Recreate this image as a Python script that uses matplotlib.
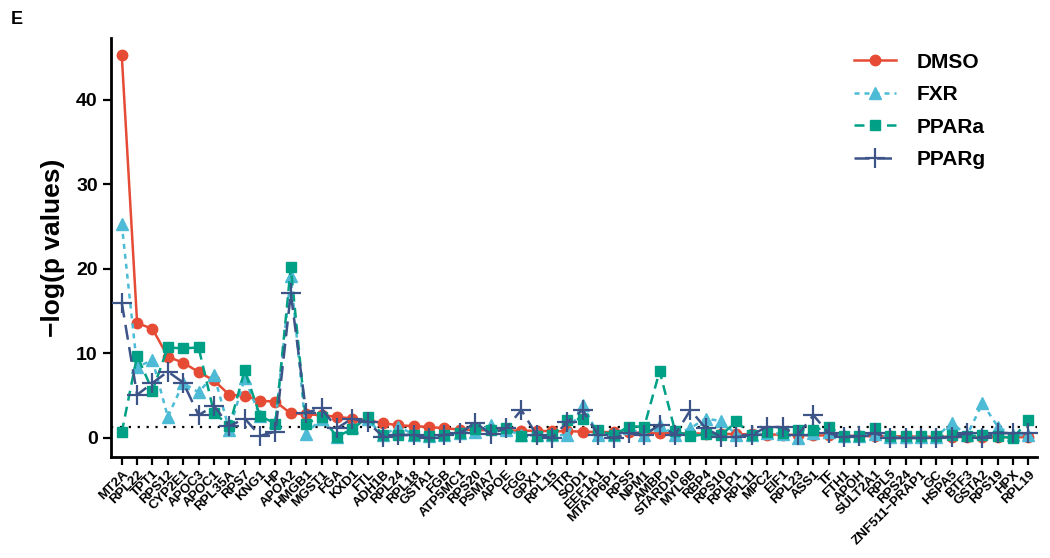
import matplotlib
matplotlib.use("Agg")
import matplotlib.pyplot as plt
import numpy as np

plt.rcParams['font.family'] = ['Liberation Sans', 'DejaVu Sans']

genes = ["MT2A", "RPL22", "TPT1", "RPS12", "CYP2E1", "APOC3", "APOC1", "RPL35A", "RPS7", "KNG1",
         "HP", "APOA2", "HMGB1", "MGST1", "FGA", "KXD1", "FTL", "ADH1B", "RPL24", "RPL18",
         "GSTA1", "FGB", "ATP5MC1", "RPS20", "PSMA7", "APOE", "FGG", "GPX1", "RPL15", "TTR",
         "SOD1", "EEF1A1", "MTATP6P1", "RPS5", "NPM1", "AMBP", "STARD10", "MYL6B", "RBP4", "RPS10",
         "RPLP1", "RPL11", "MPC2", "EIF1", "RPL23", "ASS1", "TF", "FTH1", "APOH", "SULT2A1",
         "RPL5", "RPS24", "ZNF511\u2212PRAP1", "GC", "HSPA5", "BTF3", "GSTA2", "RPS19", "HPX", "RPL19"]

dmso = [45.3, 13.6, 12.9, 9.6, 8.9, 7.8, 6.8, 5.1, 5.0, 4.4,
        4.3, 2.9, 2.8, 2.7, 2.5, 2.3, 2.1, 1.75, 1.5, 1.4,
        1.3, 1.15, 1.0, 0.95, 0.9, 0.9, 0.85, 0.85, 0.8, 0.8,
        0.75, 0.7, 0.7, 0.65, 0.6, 0.6, 0.55, 0.55, 0.5, 0.5,
        0.45, 0.45, 0.4, 0.4, 0.35, 0.3, 0.3, 0.25, 0.25, 0.2,
        0.2, 0.2, 0.15, 0.15, 0.15, 0.1, 0.1, 0.1, 0.1, 0.1]

fxr = [25.3, 8.4, 9.2, 2.5, 6.5, 5.4, 7.45, 0.95, 7.05, 2.6,
       1.9, 19.2, 0.5, 2.3, 0.1, 1.3, 2.2, 0.3, 1.35, 0.4,
       0.2, 0.4, 0.6, 0.7, 1.5, 1.0, 0.3, 0.3, 0.3, 0.35,
       3.9, 0.4, 0.3, 1.15, 0.4, 1.5, 0.4, 1.15, 2.3, 2.0,
       0.4, 0.35, 0.6, 0.5, 0.0, 0.6, 0.75, 0.2, 0.2, 0.5,
       0.1, 0.1, 0.1, 0.1, 1.8, 0.3, 4.1, 1.35, 0.3, 0.35]

ppara = [0.65, 9.7, 5.6, 10.7, 10.6, 10.7, 3.0, 1.4, 8.0, 2.6,
         1.7, 20.2, 1.7, 2.5, 0.15, 1.05, 2.5, 0.3, 0.35, 0.4,
         0.2, 0.35, 0.55, 1.1, 0.95, 1.15, 0.2, 0.2, 0.3, 2.1,
         2.3, 0.9, 0.35, 1.35, 1.35, 7.9, 0.85, 0.2, 0.45, 0.35,
         1.95, 0.35, 0.75, 0.55, 0.95, 0.9, 1.35, 0.2, 0.2, 1.15,
         0.2, 0.2, 0.2, 0.2, 0.35, 0.2, 0.35, 0.2, 0.0, 2.1]

pparg = [16.0, 5.1, 6.5, 7.85, 6.55, 2.7, 3.8, 1.4, 2.3, 0.25,
         0.75, 17.1, 3.0, 3.5, 1.15, 2.3, 1.9, 0.15, 0.35, 0.35,
         0.0, 0.35, 0.55, 1.8, 0.5, 1.15, 3.3, 0.35, 0.0, 1.9,
         3.3, 0.35, 0.0, 0.55, 0.35, 1.55, 0.35, 3.3, 1.15, 0.15,
         0.1, 0.35, 1.35, 1.25, 0.35, 2.7, 0.55, 0.1, 0.2, 0.55,
         0.0, 0.0, 0.0, 0.0, 0.1, 0.55, 0.0, 0.6, 0.55, 0.55]

threshold = 1.3
yticks = [0, 10, 20, 30, 40]

fig = plt.figure(figsize=(10.5, 5.58), dpi=100)
ax = fig.add_axes([0.1057, 0.181, 0.882, 0.751])

x = np.arange(len(genes))
ax.axhline(threshold, color='black', linestyle=(0, (1, 3)), linewidth=1.6, zorder=1)

ax.plot(x, dmso, color='#E64B35', linestyle='-', linewidth=1.8, marker='o', markersize=7.5,
        label='DMSO', zorder=3)
ax.plot(x, fxr, color='#4DBBD5', linestyle=(0, (2, 2)), linewidth=1.8, marker='^', markersize=8.5,
        label='FXR', zorder=4)
ax.plot(x, ppara, color='#00A087', linestyle=(0, (4, 2.5)), linewidth=1.8, marker='s', markersize=7.5,
        label='PPARa', zorder=5)
ax.plot(x, pparg, color='#3C5488', linestyle=(0, (6, 3)), linewidth=1.8, marker='+', markersize=14,
        markeredgewidth=1.6, label='PPARg', zorder=6)

ax.set_xlim(-0.7, len(genes) - 1 + 0.56)
ax.set_ylim(-2.25, 47.3)
ax.set_xticks(x)
ax.set_xticklabels(genes, rotation=45, ha='right', rotation_mode='anchor',
                   fontsize=9.5, fontweight='bold')
ax.set_yticks(yticks)
ax.set_yticklabels([str(v) for v in yticks], fontsize=14, fontweight='bold')
ax.set_ylabel('\u2212log(p values)', fontsize=19, fontweight='bold', labelpad=8)

for s in ['top', 'right']:
    ax.spines[s].set_visible(False)
for s in ['left', 'bottom']:
    ax.spines[s].set_linewidth(2)
ax.tick_params(axis='both', direction='out', length=6, width=1.6, color='black')
ax.tick_params(axis='x', pad=2)

leg = ax.legend(loc='upper right', bbox_to_anchor=(0.965, 1.01), frameon=False,
                prop={'weight': 'bold', 'size': 15}, handlelength=2.0, labelspacing=0.65,
                handletextpad=1.0)

fig.text(0.01, 0.965, 'E', fontsize=13, fontweight='bold', va='center')

fig.savefig('out.png', dpi=100)
